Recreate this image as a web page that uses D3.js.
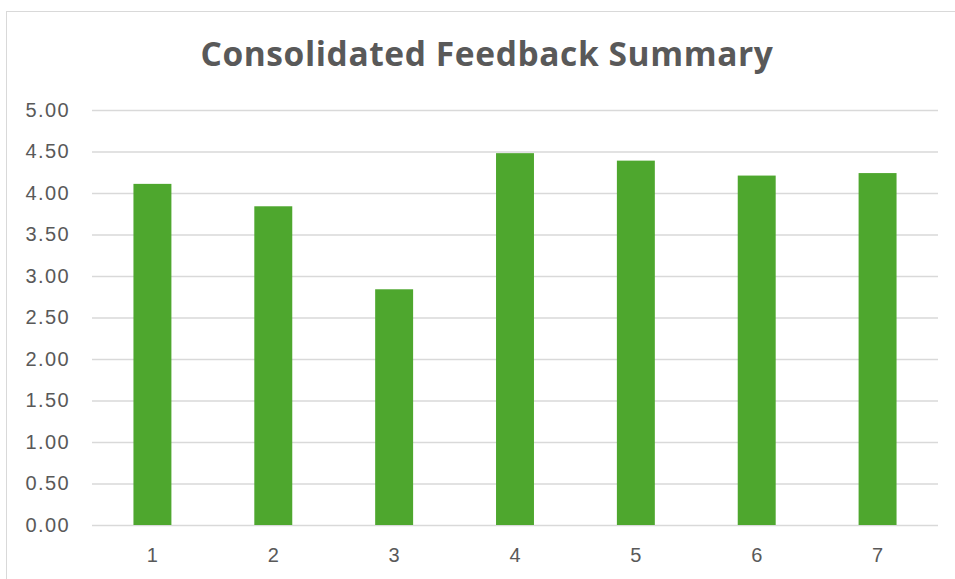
<!DOCTYPE html>
<html>
<head>
<meta charset="utf-8">
<script src="https://cdn.jsdelivr.net/npm/d3@7"></script>
<style>
body{margin:0;background:#fff;}
svg{display:block;font-family:"Open Sans","Liberation Sans",sans-serif;}
</style>
</head>
<body>
<svg id="chart"></svg>
<script>
var categories = ["1","2","3","4","5","6","7"];
var scores = [4.11,3.84,2.84,4.48,4.39,4.21,4.24];
var yTicks = [0,0.5,1,1.5,2,2.5,3,3.5,4,4.5,5];

var screen = {width:955, height:579};
var margins = {top:110, left:92, right:17, bottom:54};
var graph = {
    width:screen.width-margins.left-margins.right,
    height:screen.height-margins.top-margins.bottom
};

var svg = d3.select("#chart")
    .attr("width",screen.width)
    .attr("height",screen.height);

// chart frame (only top and left edges are visible in the picture)
svg.append("rect")
    .attr("x",6.5).attr("y",11.5)
    .attr("width",screen.width+10).attr("height",screen.height+10)
    .attr("fill","none")
    .attr("stroke","#d9d9d9")
    .attr("stroke-width",1);

svg.append("text")
    .text("Consolidated Feedback Summary")
    .attr("x",487)
    .attr("y",66)
    .attr("text-anchor","middle")
    .attr("fill","#595959")
    .attr("font-weight","bold")
    .attr("font-size",33.5)
    .attr("letter-spacing",0.6);

var xScale = d3.scaleBand()
    .domain(categories)
    .range([0,graph.width])
    .paddingInner(0.686)
    .paddingOuter(0.343);

var yScale = d3.scaleLinear()
    .domain([0,5])
    .range([graph.height,0]);

var g = svg.append("g")
    .attr("transform","translate("+margins.left+","+margins.top+")");

// gridlines + y labels
var yAxis = d3.axisLeft(yScale)
    .tickValues(yTicks)
    .tickSize(-graph.width)
    .tickPadding(22)
    .tickFormat(d3.format(".2f"));

g.append("g")
    .attr("class","y-axis")
    .call(yAxis)
    .call(function(a){
        a.select(".domain").remove();
        a.selectAll("line").attr("stroke","#d9d9d9").attr("stroke-width",1.3);
        a.selectAll("text").attr("fill","#595959").attr("font-size",20)
            .attr("letter-spacing",1.4)
            .attr("font-family","\"Liberation Sans\",Arial,sans-serif");
    });

g.selectAll(".bar")
    .data(scores)
    .enter()
    .append("rect")
    .classed("bar",true)
    .attr("x",function(d,i){return xScale(categories[i]);})
    .attr("y",function(d){return yScale(d);})
    .attr("width",xScale.bandwidth())
    .attr("height",function(d){return graph.height-yScale(d);})
    .attr("fill","#4ea72e");

var xAxis = d3.axisBottom(xScale).tickSize(0).tickPadding(23);
g.append("g")
    .attr("transform","translate(0,"+graph.height+")")
    .call(xAxis)
    .call(function(a){
        a.select(".domain").remove();
        a.selectAll("text").attr("fill","#595959").attr("font-size",20)
            .attr("font-family","\"Liberation Sans\",Arial,sans-serif");
    });
</script>
</body>
</html>
